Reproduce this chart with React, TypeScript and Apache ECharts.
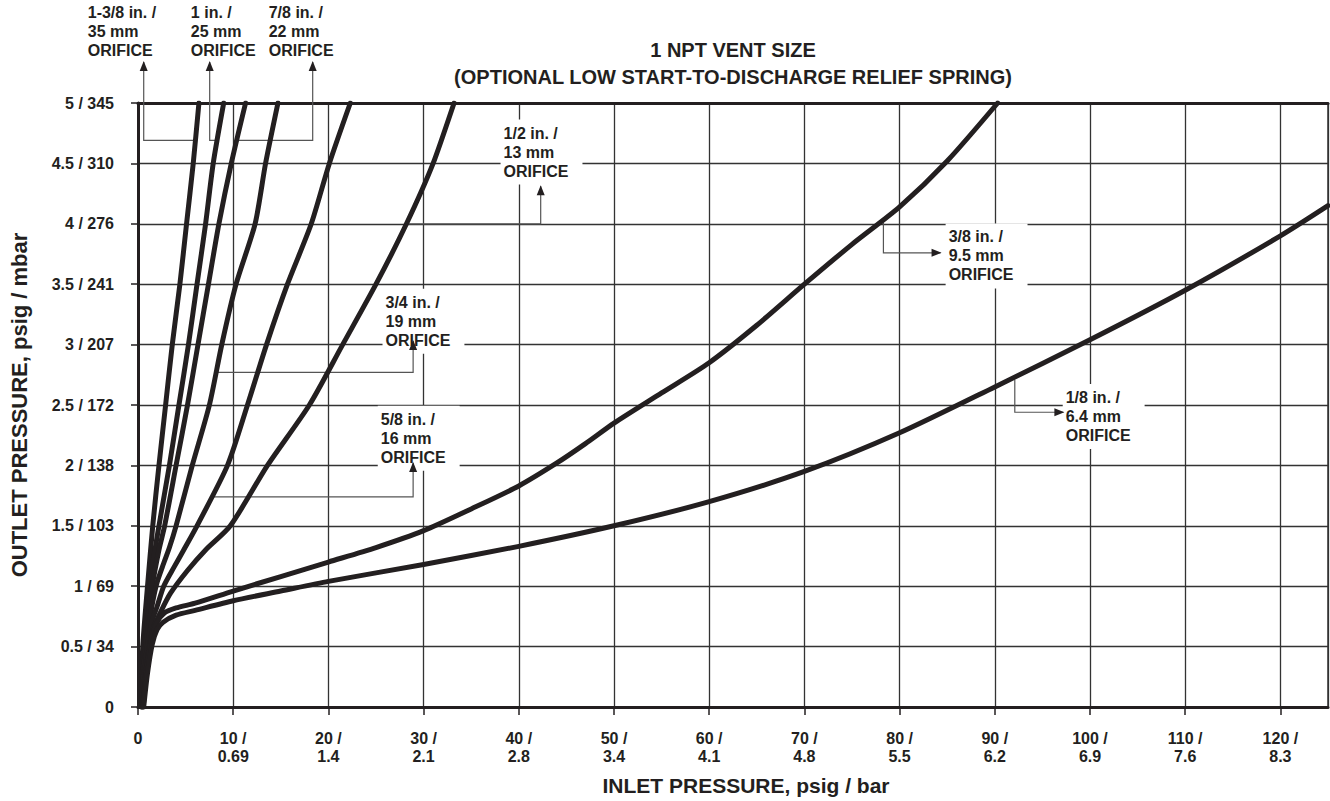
import React, { useEffect, useRef } from "react";
import * as echarts from "echarts";

// ---- Axis tick labels ----
const xTickLabels = [
  "0", "10 /\n0.69", "20 /\n1.4", "30 /\n2.1", "40 /\n2.8", "50 /\n3.4", "60 /\n4.1",
  "70 /\n4.8", "80 /\n5.5", "90 /\n6.2", "100 /\n6.9", "110 /\n7.6", "120 /\n8.3",
];
const yTickLabels = [
  "0", "0.5 / 34", "1 / 69", "1.5 / 103", "2 / 138", "2.5 / 172", "3 / 207",
  "3.5 / 241", "4 / 276", "4.5 / 310", "5 / 345",
];

// ---- Curves: [inlet psig, outlet psig] ----
const orifice1_3_8 = [
  [0.3, 0], [0.5, 0.5], [1.0, 1.0], [1.55, 1.5], [2.2, 2.0], [2.9, 2.5], [3.6, 3.0],
  [4.4, 3.5], [5.1, 4.0], [5.8, 4.5], [6.4, 5.0],
];
const orifice1 = [
  [0.35, 0], [0.6, 0.5], [1.2, 1.0], [2.2, 1.5], [3.3, 2.0], [4.3, 2.5], [5.3, 3.0],
  [6.2, 3.5], [7.1, 4.0], [7.9, 4.5], [9.0, 5.0],
];
const orifice7_8 = [
  [0.4, 0], [0.7, 0.5], [1.5, 1.0], [2.2, 1.3], [2.8, 1.5], [4.0, 2.0], [5.2, 2.5],
  [6.3, 3.0], [7.4, 3.5], [8.5, 4.0], [9.8, 4.5], [11.3, 5.0],
];
const orifice3_4 = [
  [0.4, 0], [0.8, 0.5], [1.5, 0.85], [2.0, 1.03], [2.7, 1.19], [3.3, 1.32], [4.0, 1.5],
  [5.7, 2.0], [7.5, 2.5], [8.8, 3.0], [10.3, 3.5], [12.3, 4.0], [13.4, 4.5], [14.7, 5.0],
];
const orifice5_8 = [
  [0.5, 0], [0.9, 0.45], [1.5, 0.72], [2.0, 0.83], [2.7, 1.0], [3.8, 1.16], [4.8, 1.3],
  [6.2, 1.5], [9.4, 2.0], [11.5, 2.5], [13.5, 3.0], [15.7, 3.5], [18.2, 4.0], [20.1, 4.5],
  [22.3, 5.0],
];
const orifice1_2 = [
  [0.5, 0], [1.0, 0.4], [1.6, 0.65], [2.4, 0.79], [3.4, 0.94], [5.2, 1.13], [7.1, 1.3],
  [9.7, 1.5], [13.6, 2.0], [18.0, 2.5], [21.5, 3.0], [25.0, 3.5], [28.2, 4.0], [31.0, 4.5],
  [33.2, 5.0],
];
const orifice3_8 = [
  [0.55, 0], [0.9, 0.3], [1.4, 0.55], [2.0, 0.7], [2.8, 0.78], [4, 0.82], [6, 0.86],
  [10, 0.96], [15, 1.08], [20, 1.2], [25, 1.32], [30, 1.46], [35, 1.64], [40, 1.83],
  [44, 2.02], [47, 2.18], [50, 2.35], [55, 2.6], [60, 2.85], [65, 3.16], [70, 3.5],
  [75, 3.83], [80, 4.14], [85, 4.52], [90.3, 5.0],
];
const orifice1_8 = [
  [0.6, 0], [1.0, 0.28], [1.5, 0.52], [2.0, 0.64], [2.6, 0.7], [4, 0.76], [6, 0.8],
  [10, 0.88], [15, 0.96], [20, 1.04], [30, 1.18], [40, 1.33], [50, 1.5], [60, 1.7],
  [70, 1.95], [80, 2.27], [90, 2.65], [100, 3.04], [110, 3.45], [120, 3.9], [125, 4.15],
];

const curves = [
  orifice1_3_8, orifice1, orifice7_8, orifice3_4, orifice5_8, orifice1_2, orifice3_8, orifice1_8,
];

// ---- Orifice annotations (data coordinates) ----
const annotations = [
  { lines: ["1-3/8 in. /", "35 mm", "ORIFICE"], label: [-5.28, 5.824], leader: [[6.0, 4.69], [0.6, 4.69], [0.6, 5.34]], arrow: "up" },
  { lines: ["1 in. /", "25 mm", "ORIFICE"], label: [5.55, 5.824], leader: [[8.3, 4.69], [7.53, 4.69], [7.53, 5.34]], arrow: "up" },
  { lines: ["7/8 in. /", "22 mm", "ORIFICE"], label: [13.73, 5.824], leader: [[10.4, 4.69], [18.35, 4.69], [18.35, 5.34]], arrow: "up" },
  { lines: ["1/2 in. /", "13 mm", "ORIFICE"], label: [38.4, 4.83], leader: [[28.2, 4.0], [42.3, 4.0], [42.3, 4.31]], arrow: "up" },
  { lines: ["3/4 in. /", "19 mm", "ORIFICE"], label: [26.0, 3.43], leader: [[8.3, 2.77], [28.9, 2.77], [28.9, 3.03]], arrow: "up" },
  { lines: ["5/8 in. /", "16 mm", "ORIFICE"], label: [25.5, 2.46], leader: [[7.8, 1.74], [28.9, 1.74], [28.9, 2.02]], arrow: "up" },
  { lines: ["3/8 in. /", "9.5 mm", "ORIFICE"], label: [85.15, 3.97], leader: [[78.3, 4.01], [78.3, 3.76], [84.3, 3.76]], arrow: "right" },
  { lines: ["1/8 in. /", "6.4 mm", "ORIFICE"], label: [97.45, 2.64], leader: [[92.1, 2.71], [92.1, 2.44], [97.2, 2.44]], arrow: "right" },
];

const INK = "#231f20";
const FONT = '"Liberation Sans", Arial, sans-serif';

export default function App() {
  const ref = useRef<HTMLDivElement>(null);

  useEffect(() => {
    if (!ref.current) return;
    const chart = echarts.init(ref.current, undefined, { renderer: "svg" });

    const option: any = {
      animation: false,
      backgroundColor: "#fff",
      textStyle: { fontFamily: FONT },
      grid: { left: 137.3, right: 2, top: 103, bottom: 94, containLabel: false },
      xAxis: [
        {
          type: "value",
          min: 0,
          max: 125,
          interval: 10,
          name: "INLET PRESSURE, psig / bar",
          nameLocation: "middle",
          nameGap: 68,
          nameTextStyle: {
            fontFamily: FONT,
            fontWeight: "bold",
            fontSize: 21,
            color: INK,
            padding: [0, 0, 0, 26],
          },
          axisLine: { show: true, onZero: false, lineStyle: { color: INK, width: 3 } },
          axisTick: { show: true, length: 8, lineStyle: { color: INK, width: 1.5 } },
          axisLabel: {
            margin: 22,
            fontFamily: FONT,
            fontWeight: "bold",
            fontSize: 16,
            lineHeight: 18,
            color: INK,
            showMaxLabel: false,
            formatter: (v: number) => {
              const i = Math.round(v / 10);
              if (Math.abs(v - i * 10) > 1e-6) return "";
              return xTickLabels[i] ?? "";
            },
          },
          splitLine: { show: true, lineStyle: { color: "#333", width: 1.3 } },
        },
        {
          type: "value",
          position: "top",
          min: 0,
          max: 125,
          interval: 10,
          axisLine: { show: true, onZero: false, lineStyle: { color: INK, width: 3 } },
          axisTick: { show: false },
          axisLabel: { show: false },
          splitLine: { show: false },
        },
      ],
      yAxis: [
        {
          type: "value",
          min: 0,
          max: 5,
          interval: 0.5,
          name: "OUTLET PRESSURE, psig / mbar",
          nameLocation: "middle",
          nameGap: 108,
          nameTextStyle: { fontFamily: FONT, fontWeight: "bold", fontSize: 22, color: INK },
          axisLine: { show: true, onZero: false, lineStyle: { color: INK, width: 3 } },
          axisTick: { show: true, length: 7, lineStyle: { color: INK, width: 1.5 } },
          axisLabel: {
            margin: 24,
            fontFamily: FONT,
            fontWeight: "bold",
            fontSize: 16,
            color: INK,
            formatter: (v: number) => {
              const i = Math.round(v * 2);
              return yTickLabels[i] ?? "";
            },
          },
          splitLine: { show: true, lineStyle: { color: "#333", width: 1.3 } },
        },
        {
          type: "value",
          position: "right",
          min: 0,
          max: 5,
          interval: 0.5,
          axisLine: { show: true, onZero: false, lineStyle: { color: "#333", width: 1.5 } },
          axisTick: { show: false },
          axisLabel: { show: false },
          splitLine: { show: false },
        },
      ],
      series: curves.map((d, i) => ({
        type: "line",
        name: "c" + i,
        xAxisIndex: 0,
        yAxisIndex: 0,
        data: d,
        symbol: "none",
        smooth: 0.25,
        clip: true,
        z: 3,
        lineStyle: { color: INK, width: 5, cap: "round", join: "round" },
      })),
    };
    chart.setOption(option);

    const toPx = (p: number[]) => chart.convertToPixel({ seriesIndex: 0 }, p) as number[];
    const titleStyle = {
      font: `bold 20px ${FONT}`,
      fill: INK,
      align: "center",
      verticalAlign: "middle",
      textAlign: "center",
      textVerticalAlign: "middle",
    };
    const graphics: any[] = [
      { type: "text", x: 733, y: 50, z: 5, style: { ...titleStyle, text: "1 NPT VENT SIZE" } },
      {
        type: "text",
        x: 733,
        y: 77,
        z: 5,
        style: { ...titleStyle, text: "(OPTIONAL LOW START-TO-DISCHARGE RELIEF SPRING)" },
      },
    ];

    annotations.forEach((a) => {
      const pts = a.leader.map((p) => toPx(p));
      const lp = toPx(a.label);
      graphics.push({
        type: "text",
        x: lp[0] - 3,
        y: lp[1] - 4,
        z: 1,
        style: {
          text: a.lines.join("\n"),
          font: `bold 16px ${FONT}`,
          lineHeight: 19,
          fill: INK,
          align: "left",
          verticalAlign: "top",
          textAlign: "left",
          textVerticalAlign: "top",
          backgroundColor: "#fff",
          padding: [4, 14, 4, 3],
        },
      });
      graphics.push({
        type: "polyline",
        z: 2,
        shape: { points: pts },
        style: { stroke: "#555", lineWidth: 1.2, fill: null },
      });
      const [tx, ty] = pts[pts.length - 1];
      const head =
        a.arrow === "up"
          ? [[tx, ty - 1], [tx - 4, ty + 9], [tx + 4, ty + 9]]
          : [[tx + 1, ty], [tx - 9, ty - 4], [tx - 9, ty + 4]];
      graphics.push({
        type: "polygon",
        z: 2,
        shape: { points: head },
        style: { fill: INK, stroke: null },
      });
    });

    chart.setOption({ graphic: graphics });

    return () => chart.dispose();
  }, []);

  return (
    <div
      ref={ref}
      style={{ position: "fixed", left: 0, top: 0, width: 1330, height: 801, background: "#fff" }}
    />
  );
}
